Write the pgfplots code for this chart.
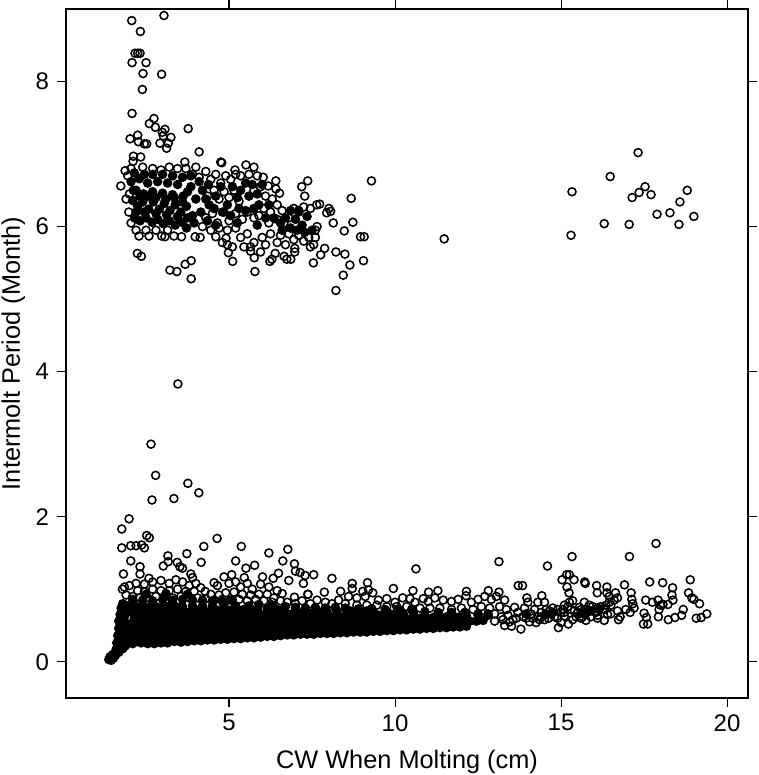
\documentclass[border=0pt]{standalone}
\usepackage{pgfplots}
\pgfplotsset{compat=1.18}
\usepackage{fontspec}
\setmainfont{Liberation Sans}
\begin{document}
\begin{tikzpicture}
\useasboundingbox (-49.5pt,-57.75pt) rectangle (519pt,523.5pt);
\begin{axis}[
  at={(0,0)},anchor=south west,
  width=511.5pt,height=516.75pt,scale only axis,
  xmin=0.09,xmax=20.63,ymin=-0.5,ymax=9.0,
  xtick={5,10,15,20},ytick={0,2,4,6,8},
  tick align=outside,tick pos=both,
  major tick length=6.75pt,
  axis line style={line width=0.9pt},
  every tick/.style={black,line width=0.8pt},
  /pgf/number format/assume math mode=true,
  tick label style={font=\fontsize{18}{20}\selectfont},
  xticklabel style={yshift=-2pt},
  yticklabel style={xshift=-2.5pt},
  label style={font=\fontsize{19}{21}\selectfont},
  xlabel={CW When Molting (cm)},
  ylabel={Intermolt Period (Month)},
  xlabel style={at={(axis description cs:0.5,0)},anchor=base,yshift=-52.5pt},
  ylabel style={at={(axis description cs:0,0.5)},anchor=base,yshift=34.5pt},
  clip=false,
]
% saturated band: points so dense that they merge to solid black
\addplot[only marks,mark=*,mark size=3pt,mark options={line width=1.15pt,fill=black,draw=black}] coordinates {
(1.38,.03)(1.45,.02)(1.52,.05)(1.42,.07)(1.5,.1)(1.58,.09)(1.6,.17)(1.68,.13)(1.62,.26)(1.72,.2)(1.8,.18)(1.88,.22)
(1.65,.36)(1.76,.3)(1.9,.3)(1.98,.26)(2.1,.25)(2.2,.28)(1.68,.46)(1.68,.56)(1.72,.65)(1.75,.74)(1.8,.8)
(2.35,.26)(2.55,.25)(2.75,.25)(2.95,.26)(3.15,.26)(3.35,.28)(3.55,.27)(3.75,.28)(3.95,.29)(4.15,.29)(4.35,.3)(4.55,.3)(4.75,.31)(4.95,.31)(5.15,.32)(5.35,.32)(5.55,.33)(5.75,.33)(5.95,.34)(6.15,.35)(6.35,.35)(6.55,.36)(6.75,.37)(6.95,.37)(7.15,.38)(7.35,.38)(7.55,.38)(7.75,.39)(7.95,.39)(8.15,.39)(8.35,.4)(8.55,.4)(8.75,.41)(8.95,.41)(9.15,.41)(9.35,.42)(9.55,.42)(9.75,.43)(9.95,.43)(10.15,.44)(10.35,.44)(10.55,.45)(10.75,.45)(10.95,.46)(11.15,.46)(11.35,.47)(11.55,.47)(11.75,.48)(11.95,.48)(12.15,.49)
(1.85,.38)(2.05,.36)(2.25,.36)(2.45,.35)(2.65,.34)(2.85,.34)(3.05,.35)(3.25,.35)(3.45,.36)(3.65,.36)(3.85,.37)(4.05,.37)(4.25,.38)(4.45,.38)(4.65,.38)(4.85,.39)(5.05,.39)(5.25,.4)(5.45,.4)(5.65,.4)(5.85,.41)(6.05,.41)(6.25,.42)(6.45,.42)(6.65,.43)(6.85,.44)(7.05,.44)(7.25,.45)(7.45,.45)(7.65,.46)(7.85,.46)(8.05,.46)(8.25,.47)(8.45,.47)(8.65,.48)(8.85,.48)(9.05,.48)(9.25,.49)(9.45,.49)(9.65,.5)(9.85,.5)(10.05,.51)(10.25,.51)(10.45,.52)(10.65,.52)(10.85,.53)(11.05,.53)(11.25,.54)(11.45,.54)(11.65,.55)(11.85,.55)(12.05,.56)(12.25,.56)(12.45,.56)(12.65,.57)
(1.78,.46)(1.95,.45)(2.15,.44)(2.35,.44)(2.55,.43)(2.75,.42)(2.95,.43)(3.15,.43)(3.35,.44)(3.55,.44)(3.75,.45)(3.95,.45)(4.15,.46)(4.35,.46)(4.55,.46)(4.75,.47)(4.95,.47)(5.15,.48)(5.35,.48)(5.55,.48)(5.75,.49)(5.95,.49)(6.15,.49)(6.35,.5)(6.55,.5)(6.75,.51)(6.95,.51)(7.15,.52)(7.35,.52)(7.55,.53)(7.75,.53)(7.95,.54)(8.15,.54)(8.35,.55)(8.55,.55)(8.75,.55)(8.95,.56)(9.15,.56)(9.35,.57)(9.55,.57)(9.75,.57)(9.95,.58)(10.15,.58)(10.35,.59)(10.55,.59)(10.75,.6)(10.95,.6)(11.15,.61)(11.35,.61)(11.55,.62)(11.75,.62)(11.95,.62)(12.15,.63)
(1.82,.54)(2.05,.53)(2.25,.52)(2.45,.52)(2.65,.51)(2.85,.51)(3.05,.51)(3.25,.52)(3.45,.52)(3.65,.53)(3.85,.53)(4.05,.54)(4.25,.54)(4.45,.54)(4.65,.55)(4.85,.55)(5.05,.56)(5.25,.56)(5.45,.56)(5.65,.57)(5.85,.57)(6.05,.57)(6.25,.58)(6.45,.58)(6.65,.58)(6.85,.59)(7.05,.59)(7.25,.6)(7.45,.6)(7.65,.6)(7.85,.61)(8.05,.62)(8.25,.62)(8.45,.62)(8.65,.63)(8.85,.63)(9.05,.64)(9.25,.64)(9.45,.65)(9.65,.65)(9.85,.66)(10.05,.66)(10.25,.66)(10.55,.67)
(1.85,.62)(1.95,.7)(2.15,.61)(2.35,.6)(2.55,.6)(2.75,.59)(2.95,.59)(3.15,.59)(3.35,.6)(3.55,.6)(3.75,.61)(3.95,.61)(4.15,.62)(4.35,.62)(4.55,.63)(4.75,.63)(4.95,.63)(5.15,.64)(5.35,.64)(5.55,.64)(5.75,.65)(5.95,.65)(6.15,.65)(6.35,.66)(6.55,.66)(6.75,.66)(6.95,.67)(7.15,.67)(7.35,.67)(7.55,.68)(7.75,.68)(7.95,.69)(8.25,.69)(8.65,.7)(9.15,.7)
(2.05,.69)(2.25,.68)(2.45,.68)(2.65,.67)(2.85,.67)(3.05,.67)(3.25,.68)(3.45,.68)(3.65,.69)(3.85,.69)(4.05,.7)(4.25,.7)(4.45,.7)(4.65,.71)(4.85,.71)(5.05,.71)(5.25,.72)(5.45,.72)(5.65,.72)(5.85,.72)(6.15,.73)(6.45,.72)
(2.0,.78)(2.2,.76)(2.4,.77)(2.6,.75)(2.8,.76)(3.0,.75)(3.2,.77)(3.4,.76)(3.6,.76)(3.9,.77)(4.2,.77)(4.5,.77)(4.85,.78)(5.2,.77)(5.6,.77)
(5.9,.79)(6.3,.78)(6.7,.76)(7.0,.75)(7.3,.74)(7.6,.75)(7.9,.74)(8.2,.75)(8.5,.74)(8.9,.73)(9.3,.73)(9.7,.72)(10.1,.72)(10.5,.72)(10.9,.69)(11.3,.68)(11.7,.68)(12.1,.68)(12.5,.66)(12.8,.64)
(2.1,.86)(2.4,.85)(2.7,.84)(3.0,.86)(3.3,.85)(3.6,.86)(3.9,.85)(4.2,.85)(4.5,.84)(4.8,.83)(5.1,.85)(2.5,.93)(3.1,.94)(3.75,.93)
% upper cluster core
(2.05,6.62)(2.2,6.5)(2.3,6.66)(2.42,6.45)(2.55,6.6)(2.7,6.48)(2.85,6.62)(3.0,6.46)(3.15,6.6)(3.3,6.44)(3.45,6.58)(3.62,6.42)
(2.1,6.36)(2.25,6.28)(2.4,6.34)(2.58,6.24)(2.72,6.34)(2.9,6.24)(3.05,6.32)(3.22,6.22)(3.38,6.3)(3.55,6.2)(3.72,6.28)
(2.15,6.12)(2.32,6.08)(2.5,6.12)(2.68,6.06)(2.85,6.1)(3.02,6.04)(3.2,6.08)(3.38,6.02)(3.58,6.06)
(3.85,6.55)(4.0,6.38)(4.2,6.5)(3.9,6.15)(4.15,6.2)(4.4,6.3)(5.35,6.5)(5.6,6.42)(5.5,6.6)(5.9,6.3)
(7.0,6.1)(7.2,6.02)(7.35,6.14)(7.5,5.95)(6.85,6.22)
(2.15,6.74)(2.45,6.72)(2.7,6.72)(3.0,6.72)(3.3,6.7)(3.6,6.68)(3.85,6.7)
(2.12,6.5)(2.32,6.42)(2.55,6.42)(2.8,6.4)(3.1,6.38)(3.35,6.4)(3.6,6.34)(3.75,6.48)
(2.2,6.2)(2.45,6.2)(2.8,6.18)(3.12,6.16)(3.45,6.14)(3.75,6.12)(3.95,6.05)(3.72,5.98)
(4.1,6.62)(4.3,6.38)(4.38,6.58)(4.6,6.42)(4.75,6.55)(4.95,6.3)(5.1,6.55)(5.25,6.4)(4.55,6.25)(4.8,6.2)(5.05,6.15)(5.3,6.25)(4.35,6.08)(4.6,6.02)(5.25,6.05)(5.5,6.22)
(5.7,6.58)(5.85,6.45)(6.0,6.58)(6.2,6.3)(5.75,6.25)(6.1,6.12)(6.35,6.12)(5.85,6.02)(6.55,6.05)(6.7,6.12)(6.6,5.95)(6.85,5.98)(7.05,5.95)(7.28,5.92)(7.1,6.22)
(13.95,.66)(14.55,.66)(14.75,.68)(15.6,.67)(15.85,.7)(16.15,.72)
};
% individually visible open circles
\addplot[only marks,mark=o,mark size=3pt,mark options={line width=1.15pt,draw=black}] coordinates {
(3.04,8.91)(2.07,8.84)(2.33,8.69)(2.17,8.39)(2.25,8.39)(2.32,8.39)(2.08,8.26)(2.5,8.26)(2.41,8.11)(2.97,8.1)(2.39,7.89)
(2.08,7.56)(2.74,7.49)(2.6,7.42)(2.78,7.37)(3.77,7.35)(3.07,7.34)(2.99,7.3)(3.02,7.25)(3.25,7.23)(2.25,7.26)(2.02,7.21)(2.27,7.17)(2.45,7.14)(2.52,7.14)(2.92,7.15)(3.17,7.15)(3.12,7.08)(4.1,7.03)
(2.12,6.97)(2.34,6.96)(2.11,6.9)(3.67,6.89)(4.75,6.89)(1.74,6.56)(1.87,6.77)(2.24,5.63)(2.36,5.59)(3.22,5.4)(3.43,5.38)(3.68,5.48)(3.86,5.53)(3.86,5.28)
(2.29,5.87)(2.59,5.87)(2.97,5.87)(3.07,5.86)(3.34,5.87)(3.57,5.86)(3.98,5.86)(4.13,5.85)(4.6,5.86)(4.91,5.84)
(2.7,6.8)(2.95,6.78)(3.2,6.82)(3.45,6.8)(3.7,6.8)(4.0,6.82)(2.05,6.8)(2.4,6.82)(2.0,6.45)(1.95,6.7)(1.9,6.38)(1.98,6.2)(2.05,6.05)(2.2,5.95)(2.5,5.95)(2.8,5.95)(3.15,5.95)
(3.9,6.72)(4.1,6.68)(4.3,6.76)(4.45,6.65)(4.6,6.72)(4.75,6.6)(4.9,6.7)(5.05,6.65)(5.2,6.72)(4.35,6.42)(4.55,6.5)(4.7,6.38)(4.85,6.48)(5.0,6.4)(5.15,6.5)(5.3,6.35)
(4.3,6.12)(4.5,6.18)(4.65,6.05)(4.85,6.2)(5.0,6.08)(5.2,6.18)(5.4,6.1)(5.55,6.2)(5.75,6.12)(5.9,6.15)(4.2,6.0)(4.45,5.95)(4.7,5.98)(4.95,5.95)(5.2,5.98)
(4.78,6.88)(5.51,6.85)(5.75,6.82)(5.18,6.78)(5.35,6.7)(5.6,6.72)(5.85,6.7)(6.03,6.68)(6.41,6.63)(6.18,6.56)(6.41,6.52)(6.52,6.46)(5.95,6.55)(5.75,6.5)(6.1,6.42)(6.3,6.38)(6.05,6.25)(6.25,6.2)(6.45,6.3)(6.6,6.22)(6.45,6.1)(6.2,6.05)(6.65,6.05)(6.8,6.12)(6.95,6.25)(7.1,6.2)(7.25,6.27)(7.45,6.25)
(7.37,6.63)(7.19,6.55)(8.68,6.39)(7.28,6.42)(7.64,6.3)(7.73,6.31)(8.01,6.25)(7.94,6.19)(8.06,6.21)(8.14,6.05)(8.73,6.06)(8.47,5.94)(8.96,5.86)(9.07,5.86)(7.88,5.7)(8.22,5.65)(8.49,5.62)(7.76,5.61)(7.54,5.5)(8.64,5.47)(9.05,5.53)(8.44,5.33)(8.22,5.12)(9.29,6.63)
(5.11,5.52)(5.78,5.38)(6.23,5.52)(6.29,5.55)(6.39,5.63)(5.95,5.65)(5.76,5.57)(4.98,5.64)(6.66,5.59)(6.74,5.55)(6.86,5.55)(5.45,5.72)(5.65,5.72)(5.65,5.66)(6.98,5.7)(6.98,5.65)
(4.95,5.75)(5.1,5.72)(4.8,5.78)(5.35,5.85)(5.55,5.9)(5.75,5.78)(6.0,5.85)(6.1,5.75)(6.25,5.9)(6.45,5.78)(6.55,5.88)(6.7,5.75)(6.8,5.9)(6.95,5.82)(7.1,5.88)(7.25,5.8)(7.4,5.85)(7.55,5.75)(7.6,5.85)(7.45,5.72)(7.65,6.0)(7.6,5.95)
(11.48,5.83)(15.3,5.88)(15.33,6.48)(16.3,6.04)(16.48,6.69)(17.05,6.03)(17.14,6.4)(17.32,7.02)(17.35,6.47)(17.53,6.55)(17.71,6.44)(17.89,6.17)(18.28,6.19)(18.55,6.03)(18.58,6.34)(18.8,6.5)(19.0,6.14)
(3.46,3.83)(2.65,3.0)(2.79,2.57)(3.76,2.46)(4.09,2.33)(3.34,2.25)(2.68,2.23)(1.99,1.97)(1.77,1.83)(2.52,1.74)(2.6,1.71)(4.64,1.7)(4.24,1.59)(5.37,1.59)(1.77,1.57)(2.04,1.6)(2.2,1.6)(2.37,1.61)(2.45,1.57)(6.77,1.55)(6.2,1.5)(3.73,1.49)(3.16,1.46)
(2.04,1.39)(3.17,1.38)(4.16,1.37)(5.2,1.39)(6.62,1.39)(3.44,1.37)(6.97,1.35)(2.32,1.31)(3.02,1.32)(3.52,1.31)(3.6,1.29)(5.77,1.33)(5.51,1.29)(1.82,1.21)(2.32,1.21)(3.85,1.21)(7.14,1.23)(7.29,1.19)(7.0,1.25)(6.49,1.22)(5.08,1.2)(4.85,1.17)(3.9,1.16)(6.01,1.17)(6.33,1.15)(5.46,1.16)(4.55,1.09)(7.24,1.08)(6.8,1.12)(2.59,1.15)(1.79,1.0)(4.28,.97)(6.6,.94)(7.37,.93)(6.97,.89)
(1.85,1.03)(2.0,1.05)(2.2,1.08)(2.45,1.07)(2.7,1.1)(2.95,1.12)(3.2,1.08)(3.4,1.13)(3.6,1.1)(3.8,1.05)(4.0,1.08)(2.25,.98)(2.45,.96)(2.7,1.0)(2.95,.98)(3.2,.98)(3.45,1.0)(3.7,.97)(3.95,.97)(4.15,1.02)(4.65,1.05)(5.0,1.08)(5.2,1.1)(5.35,1.03)(5.55,1.08)(5.7,1.0)(5.95,1.07)(6.2,1.03)(6.45,.98)(4.45,.93)(4.7,.92)(4.9,.95)(5.15,.96)(5.4,.93)(5.65,.92)(5.9,.93)(6.15,.93)(6.35,.88)
(1.9,.92)(2.1,.9)(2.3,.88)(2.55,.88)(2.8,.9)(3.05,.89)(3.3,.88)(3.55,.9)(3.8,.88)(4.05,.88)(4.3,.87)(4.55,.85)(4.8,.86)(5.05,.85)(5.3,.86)(5.55,.84)(5.8,.86)(6.05,.84)(6.3,.82)(6.55,.84)(6.75,.82)(7.0,.8)(7.2,.84)(7.45,.8)(7.65,.85)(7.9,.82)(8.1,.8)(8.3,.85)
(7.55,1.2)(8.1,1.15)(8.71,1.08)(8.71,1.01)(9.17,1.09)(9.95,1.01)(10.63,1.28)(13.13,1.38)(7.38,.93)(7.87,.96)(8.36,.97)(9.03,.97)(9.2,.99)(9.33,.95)(10.54,.98)(11.01,.96)(11.29,.98)(12.15,.97)(12.81,.98)(13.13,.96)(12.14,.91)(10.23,.88)
(8.6,.9)(8.85,.88)(9.1,.9)(9.5,.85)(9.75,.87)(10.0,.82)(10.45,.87)(10.6,.82)(10.85,.87)(11.0,.83)(11.2,.88)(11.45,.85)(11.7,.83)(11.9,.86)(12.3,.82)(12.5,.86)(12.7,.9)(12.9,.86)(13.05,.9)(13.3,.85)(8.5,.8)(8.85,.78)(9.15,.78)(9.45,.78)(9.75,.76)(10.05,.76)(10.35,.76)(10.75,.74)(11.05,.74)(11.35,.74)(11.7,.72)(12.0,.74)(12.35,.72)(12.6,.76)(12.85,.74)(13.15,.76)(13.35,.72)
(13.2,.62)(13.0,.66)(12.8,.66)(12.5,.64)(13.4,.64)(13.55,.58)(13.3,.5)(13.7,.68)(13.6,.75)(13.9,.74)(13.85,.62)(14.1,.66)(14.3,.62)(14.05,.55)(13.51,.49)(13.79,.45)(14.25,.54)(14.5,.58)(14.7,.66)(14.9,.6)(15.1,.63)(15.3,.72)(15.5,.68)(15.7,.72)(15.9,.7)(16.1,.74)(16.3,.72)(16.5,.78)(14.55,.72)(14.75,.74)(14.9,.72)(15.0,.68)(15.2,.76)(15.45,.62)(15.65,.62)(15.9,.62)(16.1,.64)(14.62,.6)(14.4,.68)(14.2,.72)(14.0,.82)(14.3,.82)(14.5,.82)(14.42,.91)
(13.0,.56)(13.25,.58)(13.45,.55)(13.65,.6)(13.95,.6)(14.15,.6)(14.35,.58)(14.4,.62)(14.55,.65)(14.65,.7)(14.8,.62)(15.05,.72)(15.1,.68)(15.55,.75)(15.75,.67)(15.95,.76)(16.05,.68)(16.2,.76)(16.35,.78)(16.45,.82)(15.4,.7)(15.6,.72)
(14.59,1.32)(15.33,1.45)(17.06,1.45)(17.86,1.63)(15.17,1.2)(15.25,1.2)(15.03,1.13)(15.39,1.13)(15.71,1.1)(15.73,1.08)(18.89,1.13)(17.67,1.1)(18.06,1.09)(16.91,1.06)(18.36,1.02)(13.71,1.05)(13.84,1.05)(16.07,1.05)(16.38,1.03)(15.18,1.03)(15.24,.95)(18.34,.92)(16.09,.95)(16.38,.95)(16.64,.95)(17.11,.95)(18.84,.95)(18.94,.88)(19.0,.86)(19.17,.8)(13.97,.88)(16.7,.88)(16.45,.9)(16.6,.85)(15.25,.82)(15.35,.84)(15.1,.78)(15.7,.82)(15.85,.78)
(17.13,.86)(17.16,.8)(17.55,.85)(17.75,.82)(17.92,.85)(18.07,.79)(18.22,.79)(18.37,.85)(19.39,.66)(18.68,.72)(18.63,.64)(18.43,.61)(18.23,.58)(19.07,.6)(19.22,.61)(17.48,.52)(17.61,.52)(17.93,.62)(17.08,.68)(17.2,.74)(17.5,.67)(17.57,.61)(17.95,.72)(18.0,.78)(16.73,.58)(16.78,.62)(16.3,.57)(15.75,.57)(15.22,.52)(14.92,.47)(15.35,.58)(16.5,.66)(16.7,.7)(16.95,.72)(16.1,.6)(16.4,.65)(15.0,.54)(15.6,.6)
};
\end{axis}
\end{tikzpicture}
\end{document}
